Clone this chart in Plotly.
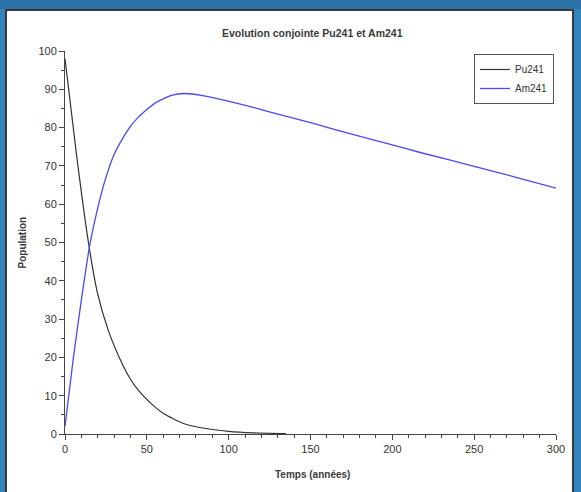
import plotly.graph_objects as go

# --- data ---
t_pu = [0, 7, 14.5, 20, 26.5, 35, 40, 45, 52, 60, 72, 85, 100, 115, 135]
pu241 = [98, 73, 49.5, 36.5, 27, 18.3, 14.3, 11.3, 8.2, 5.4, 2.8, 1.5, 0.7, 0.3, 0.1]

t_am = [0, 5, 10, 15, 20, 25, 30, 35, 40, 45, 55, 65, 73, 85, 95, 113, 130, 150,
        170, 200, 217, 250, 275, 300]
am241 = [2, 19.5, 35, 49, 59, 67, 73, 77, 80.3, 82.8, 86.4, 88.4, 88.9, 88.3, 87.4,
         85.5, 83.5, 81.3, 78.9, 75.5, 73.5, 69.9, 67.1, 64.2]

x_ticks = [0, 50, 100, 150, 200, 250, 300]
y_ticks = [0, 10, 20, 30, 40, 50, 60, 70, 80, 90, 100]

title_text = "Evolution conjointe Pu241 et Am241"
x_title = "Temps (années)"
y_title = "Population"

FONT = "Liberation Sans, Arial, sans-serif"
TXT = "#333333"
AX = "#444444"

fig = go.Figure()
fig.add_trace(go.Scatter(x=t_pu, y=pu241, mode="lines", name="Pu241",
                         line=dict(color="#333333", width=1.2, shape="spline", smoothing=0.6)))
fig.add_trace(go.Scatter(x=t_am, y=am241, mode="lines", name="Am241",
                         line=dict(color="#4a4af0", width=1.3, shape="spline", smoothing=0.6)))

W, H = 581, 492
L, R, T, B = 65, 25, 51, 58
pw, ph = W - L - R, H - T - B


def px_x(p):
    return (p - L) / pw


def px_y(p):
    return (H - B - p) / ph


fig.update_layout(
    width=W, height=H,
    margin=dict(l=L, r=R, t=T, b=B, pad=0),
    paper_bgcolor="#3385c0",
    plot_bgcolor="white",
    font=dict(family=FONT, color=TXT, size=11),
    showlegend=True,
    legend=dict(x=px_x(554), y=px_y(54), xanchor="right", yanchor="top",
                bgcolor="white", bordercolor="#555555", borderwidth=1,
                font=dict(size=10, color=TXT), tracegroupgap=0),
    shapes=[
        # darker top strip of the screenshot background
        dict(type="rect", xref="paper", yref="paper",
             x0=px_x(0), x1=px_x(W), y0=px_y(9), y1=px_y(0),
             fillcolor="#2c72a8", line=dict(width=0), layer="below"),
        # white panel with dark border
        dict(type="rect", xref="paper", yref="paper",
             x0=px_x(6), x1=px_x(573), y0=px_y(500), y1=px_y(10),
             fillcolor="white", line=dict(color="#3a3a3a", width=2), layer="below"),
    ],
    annotations=[
        dict(text="<b>" + title_text + "</b>", xref="paper", yref="paper", x=px_x(312), y=px_y(33),
             showarrow=False, font=dict(size=10.5, color="#3a3a3a"), xanchor="center", yanchor="middle"),
        dict(text="<b>" + x_title + "</b>", xref="paper", yref="paper", x=px_x(312), y=px_y(474),
             showarrow=False, font=dict(size=10, color="#3a3a3a"), xanchor="center", yanchor="middle"),
        dict(text="<b>" + y_title + "</b>", xref="paper", yref="paper", x=px_x(22), y=0.5, textangle=-90,
             showarrow=False, font=dict(size=10, color="#3a3a3a"), xanchor="center", yanchor="middle"),
    ],
)

fig.update_xaxes(range=[0, 300], tickvals=x_ticks, showgrid=False, zeroline=False,
                 automargin=False,
                 showline=True, linecolor=AX, linewidth=1, ticks="outside", ticklen=5,
                 tickcolor=AX, tickfont=dict(size=11, color=TXT),
                 minor=dict(dtick=10, ticks="outside", ticklen=3, tickcolor=AX, showgrid=False))
fig.update_yaxes(range=[0, 100], tickvals=y_ticks, showgrid=False, zeroline=False,
                 automargin=False,
                 showline=True, linecolor=AX, linewidth=1, ticks="outside", ticklen=5,
                 tickcolor=AX, tickfont=dict(size=11, color=TXT),
                 minor=dict(dtick=5, ticks="outside", ticklen=3, tickcolor=AX, showgrid=False))

fig.write_html("out.html", config={"displayModeBar": False},
               post_script="document.body.style.margin='0';document.body.style.overflow='hidden';")
